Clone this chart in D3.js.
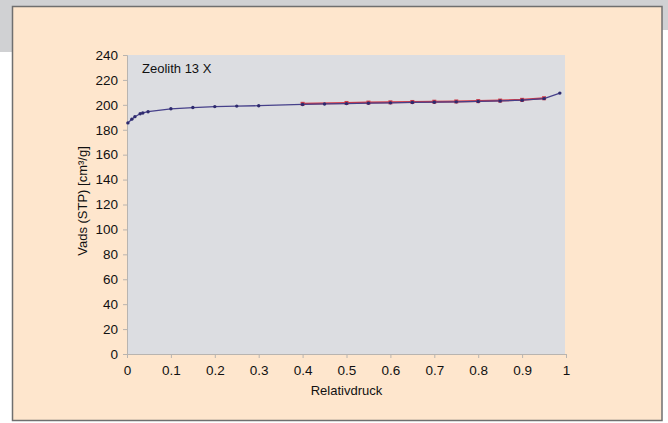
<!DOCTYPE html>
<html><head><meta charset="utf-8">
<script src="https://cdn.jsdelivr.net/npm/d3@7/dist/d3.min.js"></script>
<style>
html,body{margin:0;padding:0;background:#fff;}
svg{display:block;font-family:"Liberation Sans",Arial,sans-serif;}
</style></head>
<body><svg id="c" width="668" height="423"></svg>
<script>
// Data
const adsX = [0.002,0.011,0.018,0.03,0.036,0.048,0.1,0.15,0.2,0.25,0.3,0.4,0.45,0.5,0.55,0.6,0.65,0.7,0.75,0.8,0.85,0.9,0.95,0.986];
const adsY = [185.5,188.5,190.5,192.8,193.5,194.5,196.8,197.8,198.6,199.0,199.3,200.3,200.7,201.0,201.3,201.6,201.9,202.1,202.4,202.7,203.1,203.7,205.0,209.4];
const desX = [0.4,0.5,0.55,0.6,0.65,0.7,0.75,0.8,0.85,0.9,0.95];
const desY = [200.8,201.5,201.8,202.0,202.3,202.5,202.7,203.0,203.4,204.0,205.3];
const xTicks = [0,0.1,0.2,0.3,0.4,0.5,0.6,0.7,0.8,0.9,1];
const yTicks = [0,20,40,60,80,100,120,140,160,180,200,220,240];
const xTitle = "Relativdruck";
const yTitle = "Vads (STP) [cm³/g]";
const chartLabel = "Zeolith 13 X";

const svg = d3.select("#c");
// background frame
svg.append("rect").attr("x",0).attr("y",0).attr("width",668).attr("height",6.5).attr("fill","#d0d1d3");
svg.append("rect").attr("x",0).attr("y",0).attr("width",13).attr("height",52).attr("fill","#d0d1d3");
svg.append("rect").attr("x",661).attr("y",0).attr("width",7).attr("height",30).attr("fill","#d0d1d3");
svg.append("rect").attr("x",12.5).attr("y",6.5).attr("width",649.5).attr("height",414)
  .attr("fill","#fee6cd").attr("stroke","#6f6f6f").attr("stroke-width",1.5);

const L=127, R=566, T=55, B=354;
const x = d3.scaleLinear().domain([0,1]).range([L,R]);
const y = d3.scaleLinear().domain([0,240]).range([B,T]);

svg.append("rect").attr("x",L).attr("y",T).attr("width",R-L-1).attr("height",B-T)
  .attr("fill","#dcdde1");

const gx = svg.append("g").attr("transform",`translate(0,${B})`)
  .call(d3.axisBottom(x).tickValues(xTicks).tickFormat(d=>d3.format("")(d)).tickSize(4).tickPadding(7));
const gy = svg.append("g").attr("transform",`translate(${L},0)`)
  .call(d3.axisLeft(y).tickValues(yTicks).tickSize(4).tickPadding(5));
[gx,gy].forEach(g=>{
  g.select(".domain").attr("stroke","#b8b4b0").attr("stroke-width",1);
  g.selectAll(".tick line").attr("stroke","#b8b4b0");
  g.selectAll(".tick text").attr("fill","#111").attr("font-size",13.5)
   .attr("font-family","'Liberation Sans',Arial,sans-serif");
});

svg.append("text").attr("x",(L+R)/2).attr("y",395).attr("text-anchor","middle")
  .attr("font-size",13).attr("fill","#111").text(xTitle);
svg.append("text").attr("transform",`translate(87,201) rotate(-90)`).attr("text-anchor","middle")
  .attr("font-size",13).attr("fill","#111").text(yTitle);
svg.append("text").attr("x",142).attr("y",73).attr("font-size",13).attr("fill","#111").text(chartLabel);

const line = d3.line().x(d=>x(d[0])).y(d=>y(d[1]));
const des = desX.map((v,i)=>[v,desY[i]]);
const ads = adsX.map((v,i)=>[v,adsY[i]]);

svg.append("path").datum(des).attr("d",line).attr("fill","none").attr("stroke","#d23a48").attr("stroke-width",2);
svg.selectAll(".dm").data(des).enter().append("rect").attr("class","dm")
  .attr("x",d=>x(d[0])-2).attr("y",d=>y(d[1])-2).attr("width",4).attr("height",4).attr("fill","#cc3a48");
svg.append("path").datum(ads).attr("d",line).attr("fill","none").attr("stroke","#46408a").attr("stroke-width",1.3);
svg.selectAll(".am").data(ads).enter().append("circle").attr("class","am")
  .attr("cx",d=>x(d[0])).attr("cy",d=>y(d[1])).attr("r",1.7).attr("fill","#2e2a6e");
</script></body></html>
